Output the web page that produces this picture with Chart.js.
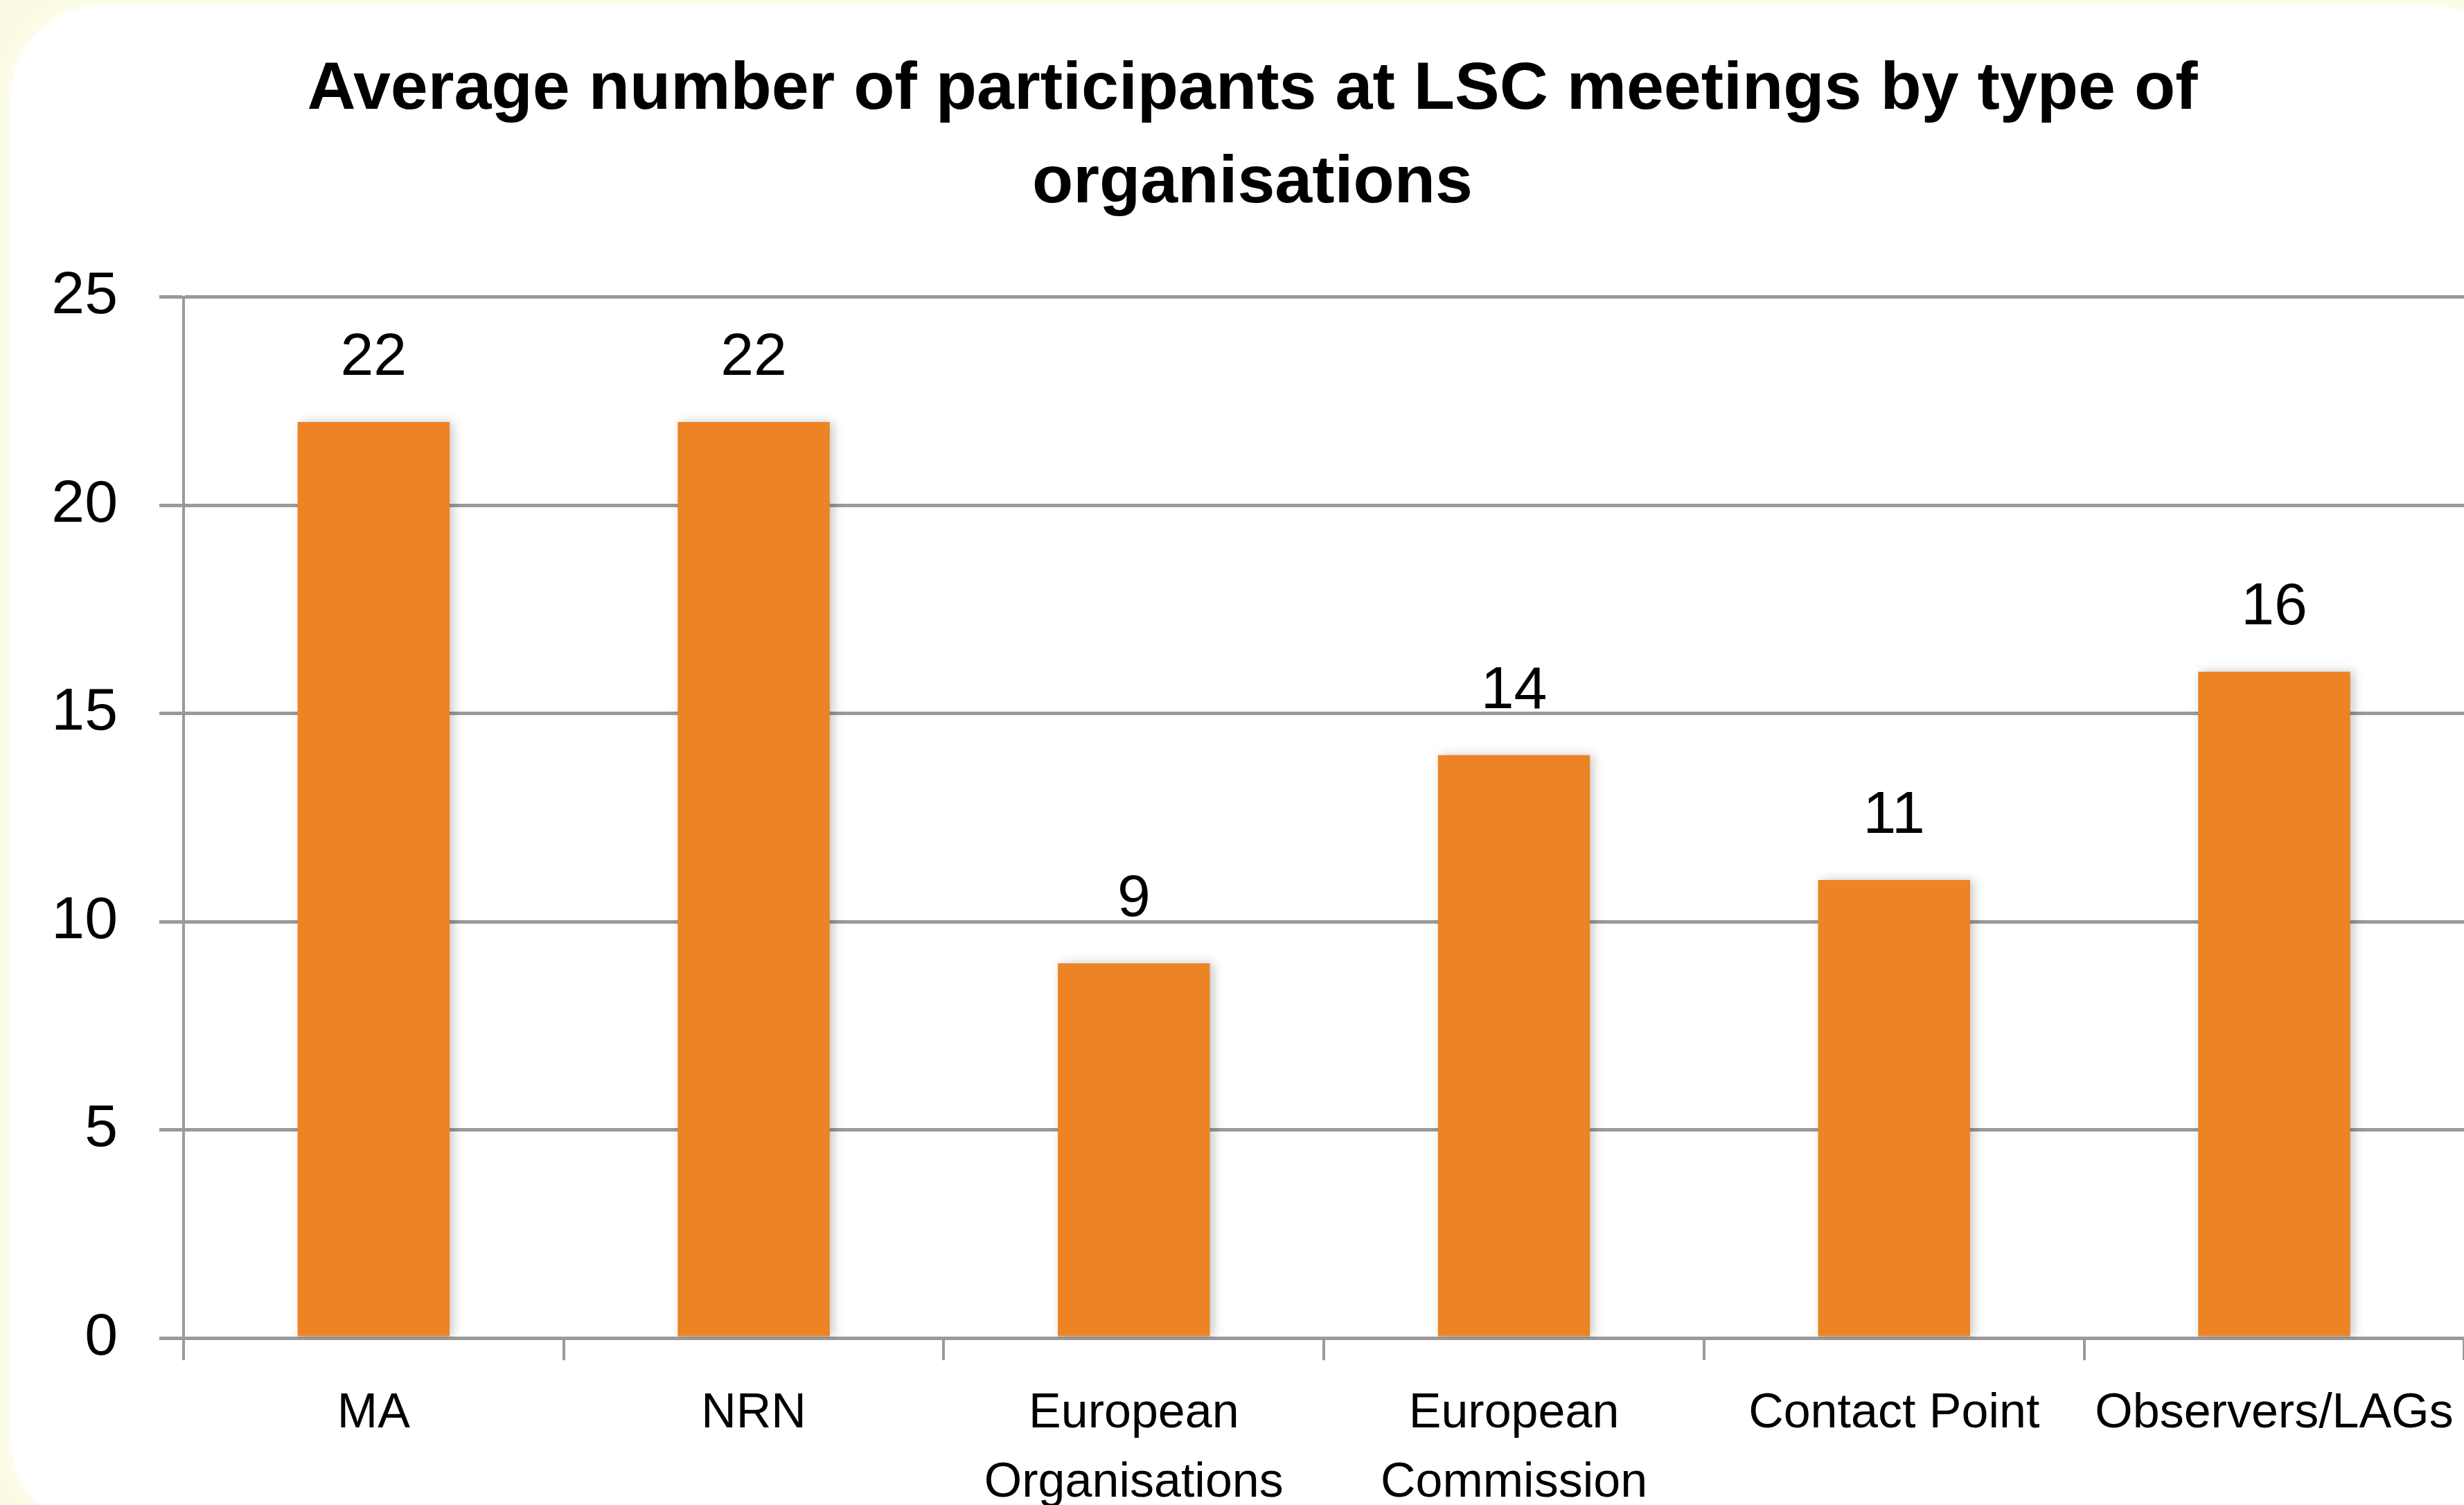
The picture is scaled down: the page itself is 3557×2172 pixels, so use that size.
<!DOCTYPE html>
<html>
<head>
<meta charset="utf-8">
<script src="https://cdn.jsdelivr.net/npm/chart.js@4.4.1/dist/chart.umd.min.js"></script>
<style>
  html, body { margin: 0; padding: 0; }
  body {
    width: 3557px; height: 2172px; overflow: hidden;
    background: #fbfbe4; position: relative;
  }
  .panel {
    position: absolute; left: 16px; top: 8px;
    width: 3620px; height: 2200px;
    background: #ffffff; border-radius: 130px;
    box-shadow: 0 0 20px 6px #fdfdf0;
  }
  #chart { position: absolute; left: 0; top: 0; }
</style>
</head>
<body>
<div class="panel"></div>
<canvas id="chart" width="3570" height="2172"></canvas>
<script>
const categories = ['MA', 'NRN', ['European', 'Organisations'], ['European', 'Commission'], 'Contact Point', 'Observers/LAGs'];
const participants = [22, 22, 9, 14, 11, 16];
const yTicks = [0, 5, 10, 15, 20, 25];
const chartTitle = ['Average number of participants at LSC meetings by type of', 'organisations'];

const gridGrey = '#9a9a9a';

// value labels above each bar
const barLabels = {
  id: 'barLabels',
  afterDatasetsDraw(chart) {
    const ctx = chart.ctx;
    const meta = chart.getDatasetMeta(0);
    ctx.save();
    ctx.font = '86px "Liberation Sans", Arial, sans-serif';
    ctx.fillStyle = '#000';
    ctx.textAlign = 'center';
    ctx.textBaseline = 'alphabetic';
    meta.data.forEach((bar, i) => {
      ctx.fillText(String(participants[i]), bar.x, bar.y - 68);
    });
    ctx.restore();
  }
};

// soft shadow on the bars
const barShadow = {
  id: 'barShadow',
  beforeDatasetsDraw(chart) {
    const ctx = chart.ctx;
    ctx.save();
    ctx.shadowColor = 'rgba(0,0,0,0.22)';
    ctx.shadowBlur = 14;
    ctx.shadowOffsetX = 5;
    ctx.shadowOffsetY = 0;
  },
  afterDatasetsDraw(chart) {
    chart.ctx.restore();
  }
};

new Chart(document.getElementById('chart'), {
  type: 'bar',
  data: {
    labels: categories,
    datasets: [{
      data: participants,
      backgroundColor: '#ec8425',
      borderWidth: 0,
      barPercentage: 0.4,
      categoryPercentage: 1.0
    }]
  },
  options: {
    responsive: false,
    animation: false,
    devicePixelRatio: 1,
    layout: { padding: { left: 50, right: 4, top: 0, bottom: 0 } },
    plugins: {
      legend: { display: false },
      tooltip: { enabled: false },
      title: {
        display: true,
        text: chartTitle,
        color: '#000',
        font: { family: '"Liberation Sans", Arial, sans-serif', size: 97, weight: 'bold', lineHeight: 1.4 },
        padding: { top: 62, bottom: 95 }
      }
    },
    scales: {
      x: {
        grid: {
          display: true,
          drawOnChartArea: false,
          drawTicks: true,
          tickLength: 32,
          offset: true,
          color: gridGrey,
          lineWidth: 4
        },
        border: { display: true, color: gridGrey, width: 5 },
        ticks: {
          color: '#000',
          font: { family: '"Liberation Sans", Arial, sans-serif', size: 70, lineHeight: 1.43 },
          padding: 28,
          autoSkip: false,
          maxRotation: 0,
          minRotation: 0
        },
        afterFit(scale) { scale.height = 241; }
      },
      y: {
        min: 0,
        max: 25,
        afterBuildTicks(scale) { scale.ticks = yTicks.map(v => ({ value: v })); },
        grid: {
          color: gridGrey,
          lineWidth: 5,
          drawTicks: true,
          tickLength: 35
        },
        border: { display: true, color: gridGrey, width: 4 },
        ticks: {
          color: '#000',
          font: { family: '"Liberation Sans", Arial, sans-serif', size: 86 },
          padding: 60
        },
        afterFit(scale) { scale.width = 215; }
      }
    }
  },
  plugins: [barShadow, barLabels]
});
</script>
</body>
</html>
